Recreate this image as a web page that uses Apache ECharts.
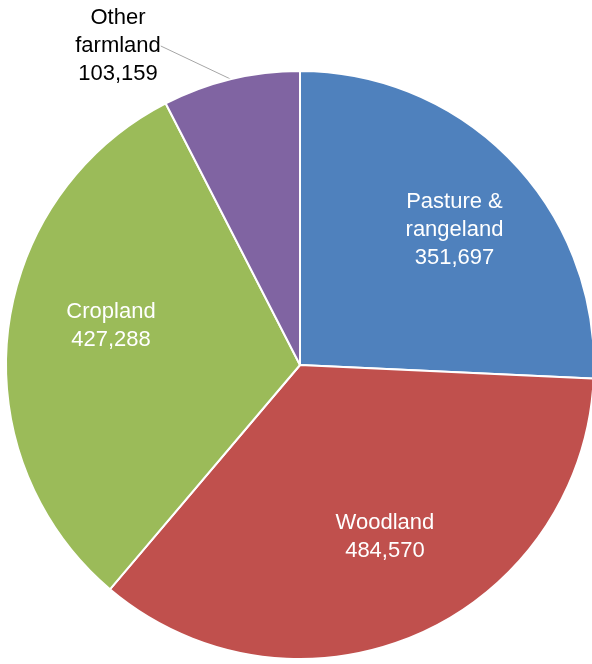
<!DOCTYPE html>
<html>
<head>
<meta charset="utf-8">
<script src="https://cdn.jsdelivr.net/npm/echarts@6/dist/echarts.min.js"></script>
<style>
html,body{margin:0;padding:0;background:#fff;}
#chart{width:592px;height:664px;}
</style>
</head>
<body>
<div id="chart"></div>
<script>
var categories = ['Pasture &\nrangeland', 'Woodland', 'Cropland', 'Other\nfarmland'];
var values = [351697, 484570, 427288, 103159];
var colors = ['#4F81BD', '#C0504D', '#9BBB59', '#8064A2'];

var labelOffsets = [[46, -31], [25, 34], [-40, -22], [0, 0]];

var chart = echarts.init(document.getElementById('chart'));
var data = categories.map(function (c, i) {
  var item = {
    name: c,
    value: values[i],
    itemStyle: { color: colors[i] }
  };
  if (i === 3) {
    item.label = {
      position: 'outside',
      color: '#000',
      alignTo: 'none'
    };
    item.labelLine = { show: true, length: 0, length2: 0, lineStyle: { color: '#A6A6A6', width: 1 } };
  } else {
    item.label = { position: 'inside', offset: labelOffsets[i] };
    item.labelLine = { show: false };
  }
  return item;
});

chart.setOption({
  animation: false,
  series: [{
    type: 'pie',
    center: [300, 365],
    radius: 294,
    startAngle: 90,
    clockwise: true,
    avoidLabelOverlap: false,
    itemStyle: { borderColor: '#fff', borderWidth: 2 },
    label: {
      show: true,
      color: '#fff',
      fontFamily: 'Liberation Sans',
      fontSize: 22,
      lineHeight: 28,
      align: 'center',
      formatter: function (p) {
        return p.name + '\n' + p.value.toLocaleString('en-US');
      }
    },
    labelLayout: function (params) {
      if (params.dataIndex === 3) {
        return { x: 118, y: 46, align: 'center', verticalAlign: 'middle' };
      }
    },
    data: data
  }]
});
</script>
</body>
</html>
